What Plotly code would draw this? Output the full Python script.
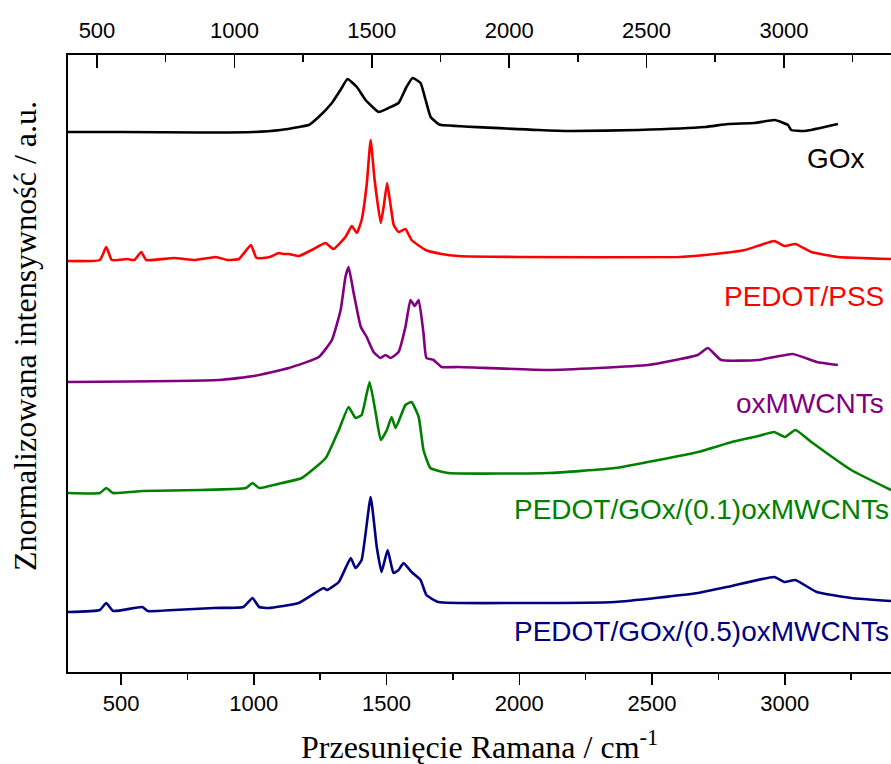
import plotly.graph_objects as go

# Raman shift (cm^-1) and stacked normalized intensities (offset per spectrum)
gox_x = [300, 500, 800, 1000, 1100, 1170, 1207, 1244, 1294, 1331, 1353, 1388, 1421, 1470, 1507, 1545,
         1575, 1598, 1628, 1647, 1666, 1695, 1707, 2072, 2197, 2448, 2700, 2786, 2886, 2962, 3012,
         3024, 3075, 3200]
gox_y = [5.40, 5.40, 5.395, 5.40, 5.42, 5.45, 5.47, 5.55, 5.69, 5.84, 5.93, 5.85, 5.72, 5.60, 5.64, 5.69,
         5.85, 5.94, 5.89, 5.72, 5.55, 5.48, 5.47, 5.42, 5.41, 5.42, 5.45, 5.48, 5.49, 5.52, 5.47,
         5.42, 5.41, 5.48]

pss_x = [300, 420, 444, 465, 523, 550, 576, 595, 699, 780, 857, 900, 944, 989, 1010, 1060, 1094, 1110,
         1132, 1170, 1218, 1270, 1300, 1345, 1369, 1388, 1406, 1425, 1440, 1455, 1478, 1490, 1502,
         1515, 1527, 1545, 1571, 1594, 1647, 1707, 1771, 2000, 2600, 2700, 2850, 2960, 3000, 3040,
         3100, 3200, 3400]
pss_y = [4.11, 4.12, 4.25, 4.12, 4.13, 4.12, 4.20, 4.12, 4.14, 4.12, 4.15, 4.12, 4.13, 4.27, 4.14, 4.15,
         4.19, 4.18, 4.18, 4.16, 4.22, 4.29, 4.23, 4.35, 4.46, 4.39, 4.52, 4.87, 5.32, 4.92, 4.49, 4.67,
         4.89, 4.67, 4.47, 4.40, 4.43, 4.32, 4.22, 4.18, 4.16, 4.15, 4.15, 4.17, 4.22, 4.31, 4.26, 4.28,
         4.20, 4.15, 4.13]

cnt_x = [300, 869, 1000, 1132, 1245, 1294, 1327, 1345, 1357, 1376, 1403, 1425, 1451, 1477, 1496, 1515,
         1545, 1571, 1590, 1606, 1621, 1639, 1650, 1677, 1707, 1771, 2109, 2485, 2672, 2710, 2760,
         2900, 3030, 3120, 3200]
cnt_y = [2.90, 2.92, 2.96, 3.04, 3.15, 3.32, 3.62, 3.95, 4.05, 3.79, 3.45, 3.35, 3.20, 3.14, 3.17, 3.14,
         3.20, 3.45, 3.72, 3.66, 3.72, 3.39, 3.14, 3.12, 3.05, 3.05, 3.02, 3.07, 3.17, 3.24, 3.12,
         3.12, 3.18, 3.10, 3.07]

g01_x = [300, 420, 444, 470, 580, 800, 970, 995, 1020, 1106, 1181, 1271, 1320, 1357, 1383, 1406, 1436,
         1459, 1478, 1501, 1519, 1534, 1571, 1594, 1621, 1639, 1665, 1733, 2109, 2361, 2673, 2800,
         2900, 2960, 3000, 3040, 3100, 3250, 3400]
g01_y = [1.79, 1.79, 1.84, 1.79, 1.81, 1.82, 1.84, 1.89, 1.84, 1.89, 1.94, 2.14, 2.42, 2.65, 2.54, 2.57,
         2.90, 2.59, 2.32, 2.42, 2.55, 2.44, 2.67, 2.70, 2.55, 2.22, 2.04, 1.99, 1.99, 2.04, 2.20, 2.30,
         2.36, 2.40, 2.35, 2.42, 2.30, 2.02, 1.82]

g05_x = [300, 420, 444, 470, 580, 600, 700, 850, 960, 995, 1020, 1056, 1169, 1263, 1275, 1320, 1365,
         1383, 1406, 1440, 1463, 1481, 1504, 1526, 1545, 1564, 1594, 1628, 1650, 1695, 1985, 2361,
         2673, 2800, 2960, 3000, 3040, 3120, 3250, 3400]
g05_y = [0.60, 0.62, 0.69, 0.61, 0.65, 0.61, 0.62, 0.64, 0.65, 0.74, 0.65, 0.64, 0.69, 0.84, 0.82, 0.90,
         1.14, 1.04, 1.12, 1.75, 1.25, 1.00, 1.22, 0.99, 1.02, 1.09, 1.00, 0.92, 0.77, 0.70, 0.69, 0.70,
         0.79, 0.86, 0.95, 0.90, 0.92, 0.80, 0.74, 0.71]

series = [
    ("GOx", gox_x, gox_y, "#000000"),
    ("PEDOT/PSS", pss_x, pss_y, "#ff0000"),
    ("oxMWCNTs", cnt_x, cnt_y, "#800080"),
    ("PEDOT/GOx/(0.1)oxMWCNTs", g01_x, g01_y, "#008000"),
    ("PEDOT/GOx/(0.5)oxMWCNTs", g05_x, g05_y, "#000080"),
]

# label positions (x in cm^-1, y in intensity units)
label_pos = [(3310, 5.14), (3380, 3.76), (3380, 2.69), (3400, 1.63), (3400, 0.41)]

fig = go.Figure()
for name, xs, ys, col in series:
    fig.add_trace(go.Scatter(x=xs, y=ys, mode="lines", name=name,
                             line=dict(color=col, width=2.6, shape="spline", smoothing=0.4),
                             showlegend=False, hoverinfo="skip"))

# invisible trace for the top axis
fig.add_trace(go.Scatter(x=[1000], y=[0], xaxis="x2", mode="markers",
                         marker=dict(opacity=0), showlegend=False, hoverinfo="skip"))

for (name, xs, ys, col), (lx, ly) in zip(series, label_pos):
    fig.add_annotation(x=lx, y=ly, xref="x", yref="y", text=name, showarrow=False,
                       xanchor="right", yanchor="middle",
                       font=dict(family="Liberation Sans, Arial", size=28, color=col))

tickfont = dict(family="Liberation Sans, Arial", size=22, color="black")
fig.update_layout(
    width=891, height=764,
    margin=dict(l=68, r=0, t=55, b=92),
    plot_bgcolor="white", paper_bgcolor="white",
    xaxis=dict(range=[300, 3400], dtick=500, tick0=0, ticks="outside", ticklen=11, tickwidth=1.6,
               tickcolor="black", showline=True, linecolor="black", linewidth=2, showgrid=False,
               zeroline=False, tickfont=tickfont,
               minor=dict(dtick=250, tick0=0, ticks="outside", ticklen=6, tickwidth=1.6, tickcolor="black")),
    xaxis2=dict(range=[394.5, 3389.4], overlaying="x", side="top", dtick=500, tick0=0, ticks="inside",
                ticklen=13, tickwidth=1.6, tickcolor="black", showline=True, linecolor="black",
                linewidth=2, showgrid=False, zeroline=False, tickfont=tickfont, ticklabelstandoff=6,
                minor=dict(dtick=250, tick0=0, ticks="inside", ticklen=7, tickwidth=1.6, tickcolor="black")),
    yaxis=dict(range=[0, 6.17], showticklabels=False, ticks="", showline=True, linecolor="black",
               linewidth=2, showgrid=False, zeroline=False),
)

fig.add_annotation(xref="paper", yref="paper", x=0.5, y=-0.118, yanchor="middle", xanchor="center",
                   text="Przesunięcie Ramana / cm<sup>-1</sup>", showarrow=False,
                   font=dict(family="Liberation Serif, Times New Roman", size=32, color="black"))
fig.add_annotation(xref="paper", yref="paper", x=-0.053, y=0.545, xanchor="center", yanchor="middle",
                   text="Znormalizowana intensywność / a.u.", showarrow=False, textangle=-90,
                   font=dict(family="Liberation Serif, Times New Roman", size=32, color="black"))

fig.write_html("out.html", config={"displayModeBar": False, "staticPlot": True},
               post_script="document.body.style.margin='0';document.body.style.overflow='hidden';")
